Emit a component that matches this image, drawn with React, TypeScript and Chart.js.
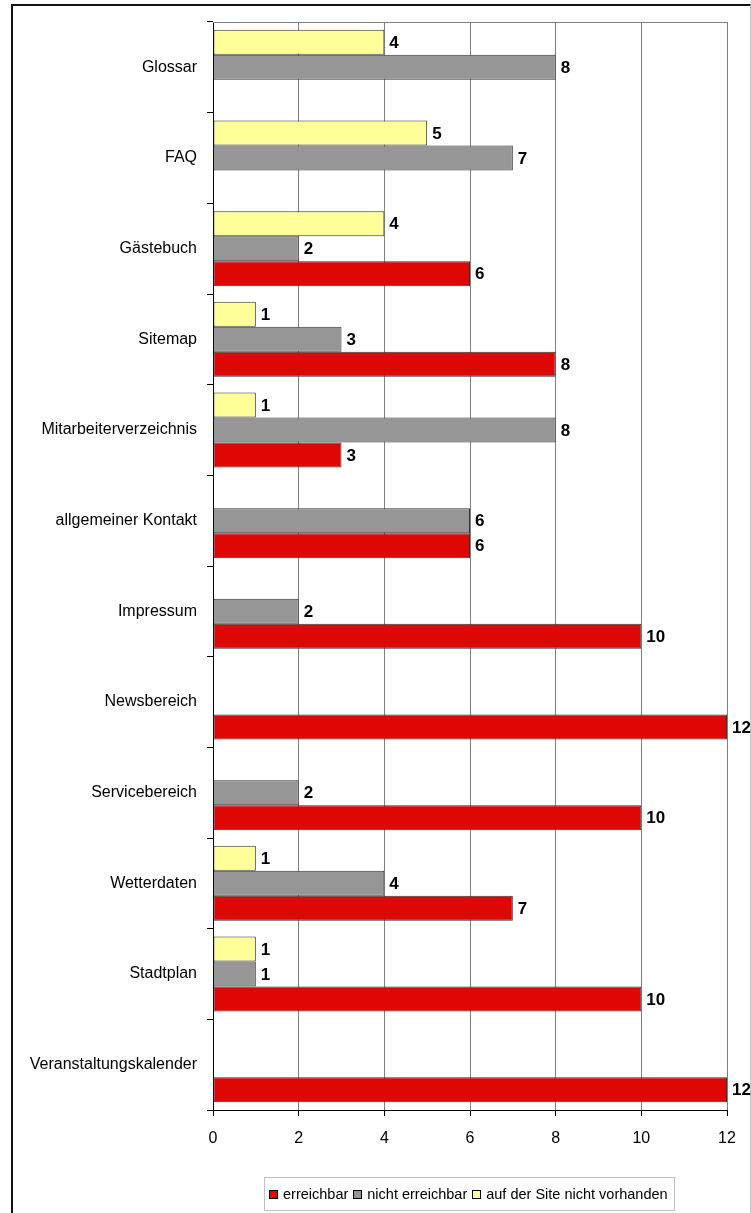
import React, { useEffect, useRef } from "react";
import { Chart, registerables } from "chart.js";

Chart.register(...registerables);

const categories = [
  "Glossar",
  "FAQ",
  "Gästebuch",
  "Sitemap",
  "Mitarbeiterverzeichnis",
  "allgemeiner Kontakt",
  "Impressum",
  "Newsbereich",
  "Servicebereich",
  "Wetterdaten",
  "Stadtplan",
  "Veranstaltungskalender",
];

const seriesNames = ["erreichbar", "nicht erreichbar", "auf der Site nicht vorhanden"];

const erreichbar = [null, null, 6, 8, 3, 6, 10, 12, 10, 7, 10, 12];
const nichtErreichbar = [8, 7, 2, 3, 8, 6, 2, null, 2, 4, 1, null];
const nichtVorhanden = [4, 5, 4, 1, 1, null, null, null, null, 1, 1, null];

const xTicks = [0, 2, 4, 6, 8, 10, 12];

const RED = "#DD0806";
const GRAY = "#969696";
const YELLOW = "#FFFF99";
const FONT = "'Liberation Sans', Arial, sans-serif";

const valueLabels = {
  id: "valueLabels",
  afterDatasetsDraw(chart: any) {
    const ctx = chart.ctx;
    ctx.save();
    ctx.font = `bold 17px ${FONT}`;
    ctx.fillStyle = "#000";
    ctx.textAlign = "left";
    ctx.textBaseline = "middle";
    chart.data.datasets.forEach((ds: any, i: number) => {
      const meta = chart.getDatasetMeta(i);
      meta.data.forEach((bar: any, j: number) => {
        const v = ds.data[j];
        if (v === null || v === undefined) return;
        ctx.fillText(String(v), bar.x + 5, bar.y + 1);
      });
    });
    ctx.restore();
  },
};

const topBorder = {
  id: "topBorder",
  beforeDatasetsDraw(chart: any) {
    const { ctx, chartArea } = chart;
    ctx.save();
    ctx.strokeStyle = "#808080";
    ctx.lineWidth = 1;
    ctx.beginPath();
    ctx.moveTo(chartArea.left, Math.round(chartArea.top) + 0.5);
    ctx.lineTo(chartArea.right, Math.round(chartArea.top) + 0.5);
    ctx.stroke();
    ctx.restore();
  },
};

export default function App() {
  const canvasRef = useRef<HTMLCanvasElement | null>(null);

  useEffect(() => {
    if (!canvasRef.current) return;
    const chart = new Chart(canvasRef.current, {
      type: "bar",
      data: {
        labels: categories,
        datasets: [
          {
            label: seriesNames[2],
            data: nichtVorhanden,
            backgroundColor: YELLOW,
            borderColor: "#333",
            borderWidth: 1,
            borderSkipped: false,
          },
          {
            label: seriesNames[1],
            data: nichtErreichbar,
            backgroundColor: GRAY,
            borderColor: "#333",
            borderWidth: 1,
            borderSkipped: false,
          },
          {
            label: seriesNames[0],
            data: erreichbar,
            backgroundColor: RED,
            borderColor: "#333",
            borderWidth: 1,
            borderSkipped: false,
          },
        ] as any,
      },
      options: {
        indexAxis: "y",
        responsive: false,
        animation: false,
        devicePixelRatio: 1,
        layout: { padding: { left: 0, top: 22, right: 24, bottom: 0 } },
        datasets: {
          bar: { categoryPercentage: 0.827, barPercentage: 1.0 },
        },
        plugins: {
          legend: { display: false },
          tooltip: { enabled: false },
          title: { display: false },
        },
        scales: {
          y: {
            type: "category",
            afterFit(scale: any) {
              scale.width = 213;
            },
            grid: {
              display: true,
              offset: true,
              drawOnChartArea: false,
              drawTicks: true,
              tickLength: 6,
              tickColor: "#000",
              color: "#000",
            },
            border: { display: true, color: "#000", width: 1 },
            ticks: {
              color: "#000",
              padding: 10,
              font: { family: FONT, size: 16 },
              autoSkip: false,
            },
          },
          x: {
            type: "linear",
            min: xTicks[0],
            max: xTicks[xTicks.length - 1],
            afterFit(scale: any) {
              scale.height = 103;
            },
            afterBuildTicks(scale: any) {
              scale.ticks = xTicks.map((v) => ({ value: v }));
            },
            grid: {
              color: "#808080",
              tickColor: "#000",
              tickLength: 6,
              drawTicks: true,
            },
            border: { display: true, color: "#000", width: 1 },
            ticks: {
              color: "#000",
              padding: 13,
              font: { family: FONT, size: 16 },
            },
          },
        },
      },
      plugins: [valueLabels, topBorder],
    } as any);
    return () => chart.destroy();
  }, []);

  const legendItems = [
    { name: seriesNames[0], color: RED },
    { name: seriesNames[1], color: GRAY },
    { name: seriesNames[2], color: YELLOW },
  ];

  return (
    <div
      style={{
        position: "absolute",
        left: 0,
        top: 0,
        width: 751,
        height: 1213,
        overflow: "hidden",
        background: "#fff",
      }}
    >
      <div
        style={{
          position: "absolute",
          left: 11,
          top: 4,
          width: 737,
          height: 1300,
          borderLeft: "2px solid #111",
          borderTop: "2px solid #111",
          borderRight: "1px solid #c8c8c8",
        }}
      />
      <canvas
        ref={canvasRef}
        width={751}
        height={1213}
        style={{ position: "absolute", left: 0, top: 0, width: 751, height: 1213 }}
      />
      <div
        style={{
          position: "absolute",
          left: 264,
          top: 1177,
          width: 411,
          height: 34,
          boxSizing: "border-box",
          border: "1px solid #c0c0c0",
          display: "flex",
          alignItems: "center",
          paddingLeft: 4,
          fontFamily: FONT,
          fontSize: 14.5,
          color: "#000",
          whiteSpace: "nowrap",
        }}
      >
        {legendItems.map((it) => (
          <span key={it.name} style={{ display: "inline-flex", alignItems: "center", marginRight: 5 }}>
            <span
              style={{
                display: "inline-block",
                width: 7,
                height: 7,
                border: "1px solid #000",
                background: it.color,
                marginRight: 5,
              }}
            />
            {it.name}
          </span>
        ))}
      </div>
    </div>
  );
}
